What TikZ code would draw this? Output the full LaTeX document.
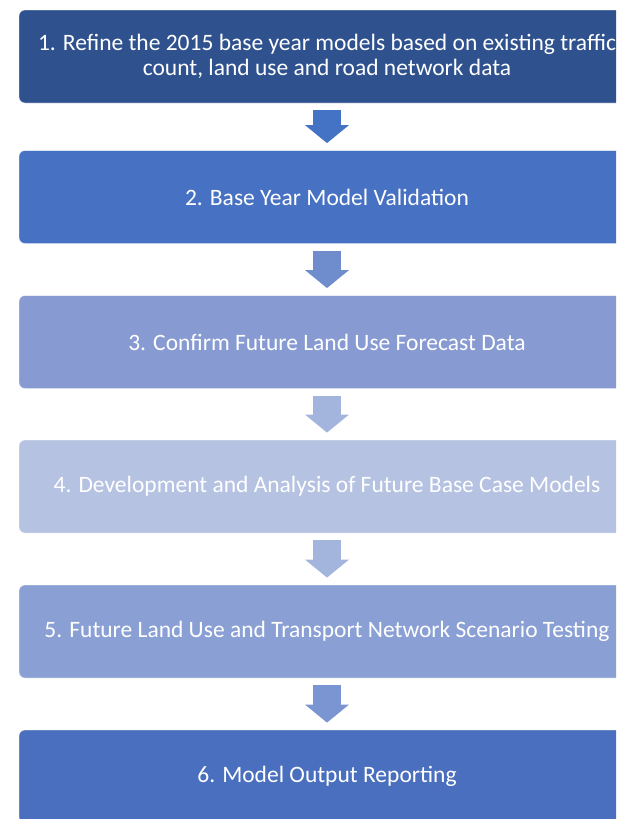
\documentclass[tikz,border=0pt]{standalone}
\usepackage{fontspec}
\setmainfont{Carlito}
\usetikzlibrary{arrows.meta}
\definecolor{cA}{HTML}{2F528F}
\definecolor{cB}{HTML}{4771C2}
\definecolor{cC}{HTML}{879BD2}
\definecolor{cD}{HTML}{B5C2E2}
\definecolor{cE}{HTML}{8A9FD4}
\definecolor{cF}{HTML}{4A6FBE}
\definecolor{aA}{HTML}{4472C4}
\definecolor{aB}{HTML}{6F8DCC}
\definecolor{aC}{HTML}{A3B4DD}
\definecolor{aD}{HTML}{A3B4DD}
\definecolor{aE}{HTML}{7A95D2}
\tikzset{
  stepbox/.style={rectangle, rounded corners=6pt, minimum width=616pt, minimum height=93pt,
    inner sep=0pt, text=white, font=\fontsize{23.5}{24.5}\selectfont, align=center,
    draw=white, draw opacity=0.45, line width=0.8pt},
  bigarrow/.style={line width=28pt, -{Triangle[width=43pt,length=18pt]}}
}
\begin{document}
\begin{tikzpicture}[x=1pt,y=-1pt]
\useasboundingbox (0,0) rectangle (616,819);
\clip (0,0) rectangle (616,819);
\node[stepbox, fill=cA] (b1) at (327,56.5) {1. Refine the 2015 base year models based on existing traffic\\count, land use and road network data};
\node[stepbox, fill=cB] (b2) at (327,197) {2. Base Year Model Validation};
\node[stepbox, fill=cC] (b3) at (327,342) {3. Confirm Future Land Use Forecast Data};
\node[stepbox, fill=cD] (b4) at (327,486.5) {4. Development and Analysis of Future Base Case Models};
\node[stepbox, fill=cE] (b5) at (327,631.5) {5. Future Land Use and Transport Network Scenario Testing};
\node[stepbox, fill=cF] (b6) at (327,776.5) {6. Model Output Reporting};
\draw[bigarrow, aA] ([yshift=-7pt]b1.south) -- ([yshift=7pt]b2.north);
\draw[bigarrow, aB] ([yshift=-7pt]b2.south) -- ([yshift=7pt]b3.north);
\draw[bigarrow, aC] ([yshift=-7pt]b3.south) -- ([yshift=7pt]b4.north);
\draw[bigarrow, aD] ([yshift=-7pt]b4.south) -- ([yshift=7pt]b5.north);
\draw[bigarrow, aE] ([yshift=-7pt]b5.south) -- ([yshift=7pt]b6.north);
\end{tikzpicture}
\end{document}
